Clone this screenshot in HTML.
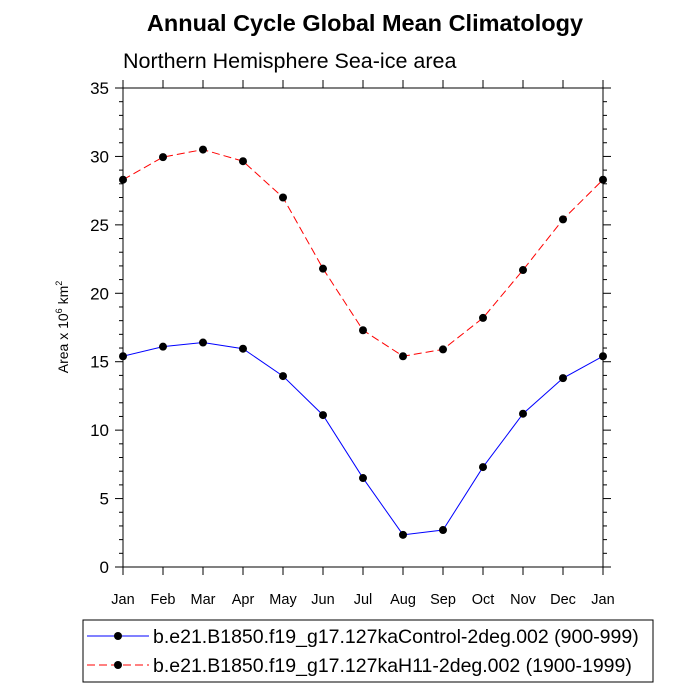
<!DOCTYPE html>
<html><head><meta charset="utf-8"><style>
body{margin:0;background:#fff;}
svg{display:block;font-family:"Liberation Sans",sans-serif;}
</style></head><body>
<svg id="chart" width="700" height="700">
<text x="365" y="31" text-anchor="middle" font-size="23.5" font-weight="bold">Annual Cycle Global Mean Climatology</text>
<text x="123" y="68" font-size="21.5">Northern Hemisphere Sea-ice area</text>
<g id="axes"></g>
<g id="series"></g>
<g>
<rect x="83" y="620" width="570" height="62" fill="none" stroke="#000" stroke-width="1"/>
<line x1="87" y1="636" x2="149" y2="636" stroke="#0000ff" stroke-width="1"/>
<circle cx="118" cy="636" r="4" fill="#000"/>
<text x="153" y="643" font-size="19.5">b.e21.B1850.f19_g17.127kaControl-2deg.002 (900-999)</text>
<line x1="87" y1="665" x2="149" y2="665" stroke="#ff0000" stroke-width="1" stroke-dasharray="8,4"/>
<circle cx="118" cy="665" r="4" fill="#000"/>
<text x="153" y="672" font-size="19.5">b.e21.B1850.f19_g17.127kaH11-2deg.002 (1900-1999)</text>
</g>
</svg>
<script>
const months=["Jan","Feb","Mar","Apr","May","Jun","Jul","Aug","Sep","Oct","Nov","Dec","Jan"];
const controlValues=[15.4,16.1,16.4,15.95,13.95,11.1,6.5,2.35,2.7,7.3,11.2,13.8,15.4];
const h11Values=[28.3,29.95,30.5,29.65,27.0,21.8,17.3,15.4,15.9,18.2,21.7,25.4,28.3];
const yTicks=[0,5,10,15,20,25,30,35];
const X0=123,X1=603,Y0=567,Y1=88,YMAX=35;
const NS="http://www.w3.org/2000/svg";
function xs(i){return X0+i*(X1-X0)/(months.length-1);}
function ys(v){return Y0-v*(Y0-Y1)/YMAX;}
function mk(tag,attrs,parent){const e=document.createElementNS(NS,tag);for(const k in attrs)e.setAttribute(k,attrs[k]);parent.appendChild(e);return e;}
const axes=document.getElementById('axes');
const frame=mk('rect',{x:X0,y:Y1,width:X1-X0,height:Y0-Y1,fill:'none',stroke:'#000','stroke-width':1},axes);


for(let v=0;v<=YMAX;v++){
  const major=v%5===0;const L=major?8:4;const y=ys(v);
  mk('line',{x1:X0,y1:y,x2:X0-L,y2:y,stroke:'#000'},axes);
  mk('line',{x1:X1,y1:y,x2:X1+L,y2:y,stroke:'#000'},axes);
}
yTicks.forEach(v=>{
  const t=mk('text',{x:X0-14,y:ys(v)+6,'text-anchor':'end','font-size':17},axes);
  t.textContent=v;
  
  
});
months.forEach((m,i)=>{
  const x=xs(i);
  mk('line',{x1:x,y1:Y0,x2:x,y2:Y0+8,stroke:'#000'},axes);
  mk('line',{x1:x,y1:Y1,x2:x,y2:Y1-8,stroke:'#000'},axes);
  const t=mk('text',{x:x,y:Y0+37,'text-anchor':'middle','font-size':14.5},axes);
  t.textContent=m;
  
  
});
const yt=mk('text',{transform:'translate(68,327) rotate(-90)','text-anchor':'middle','font-size':14},axes);
yt.innerHTML='Area x 10<tspan dy="-6" font-size="9">6</tspan><tspan dy="6"> km</tspan><tspan dy="-6" font-size="9">2</tspan>';


const ser=document.getElementById('series');
function draw(vals,color,dash,name){
  const g=mk('g',{},ser);
  
  
  const pts=vals.map((v,i)=>xs(i)+','+ys(v)).join(' ');
  const pl=mk('polyline',{points:pts,fill:'none',stroke:color,'stroke-width':1},g);
  if(dash)pl.setAttribute('stroke-dasharray',dash);
  vals.forEach((v,i)=>{
    const c=mk('circle',{cx:xs(i),cy:ys(v),r:4,fill:'#000'},g);
    
    
  });
}
draw(controlValues,'#0000ff',null,'series-control');
draw(h11Values,'#ff0000','8,4','series-h11');
</script>
</body></html>
